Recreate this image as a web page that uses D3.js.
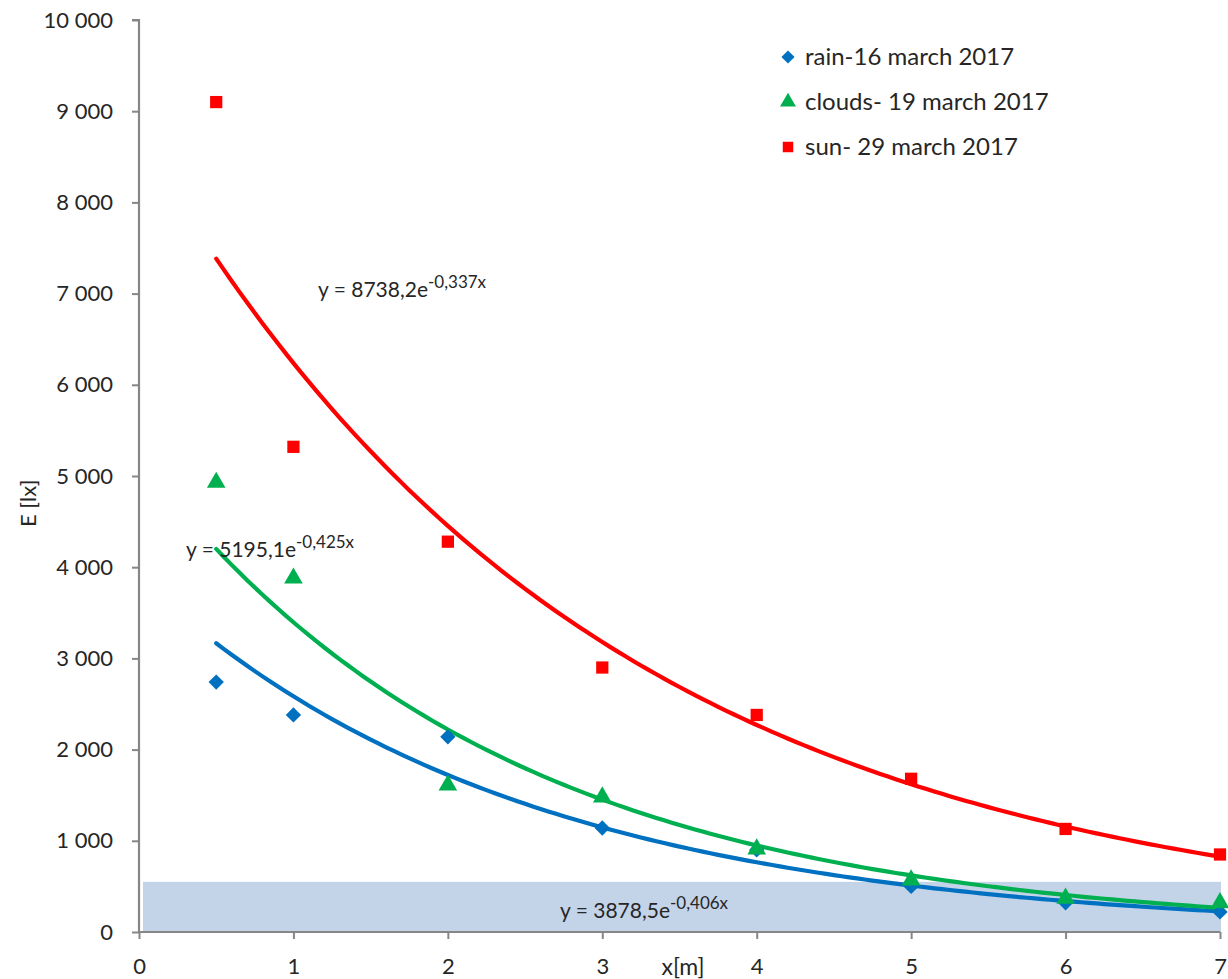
<!DOCTYPE html>
<html>
<head>
<meta charset="utf-8">
<script src="https://cdn.jsdelivr.net/npm/d3@7"></script>
<style>
  html, body { margin: 0; padding: 0; background: #fff; }
  svg { display: block; }
  text { font-family: Lato, "Open Sans", sans-serif; fill: #262626; }
</style>
</head>
<body>
<svg id="chart" width="1228" height="979"></svg>
<script>
// Distances (m) at which illuminance was measured
const distances = [0.5, 1, 2, 3, 4, 5, 6, 7];

// Measured illuminance E [lx]
const rainValues   = [2740, 2380, 2140, 1140, 900, 500, 320, 220];
const cloudValues  = [4930, 3880, 1610, 1480, 910, 570, 370, 320];
const sunValues    = [9100, 5320, 4280, 2900, 2380, 1680, 1130, 850];

// Series names (legend)
const seriesNames = ["rain-16 march 2017", "clouds- 19 march 2017", "sun- 29 march 2017"];

// Exponential fits y = a·e^(b·x)
const fitA = [3878.5, 5195.1, 8738.2];
const fitB = [-0.406, -0.425, -0.337];
const fitLabelsMain = ["y = 3878,5e", "y = 5195,1e", "y = 8738,2e"];
const fitLabelsExp  = ["-0,406x", "-0,425x", "-0,337x"];

// Low-light band upper limit (lx)
const bandLimit = 550;

// Axis ticks
const xTicks = [0, 1, 2, 3, 4, 5, 6, 7];
const yTicks = [0, 1000, 2000, 3000, 4000, 5000, 6000, 7000, 8000, 9000, 10000];

const colors = ["#0070C0", "#00B050", "#FF0000"];
const shapes = [d3.symbolDiamond2, d3.symbolTriangle, d3.symbolSquare];

const svg = d3.select("#chart");
const x = d3.scaleLinear().domain([0, 7]).range([139, 1220]);
const y = d3.scaleLinear().domain([0, 10000]).range([932, 20]);

const fmt = v => d3.format(",")(v).replace(/,/g, " ");

// Shaded band
svg.append("rect")
  .attr("x", x(0) + 4).attr("y", y(bandLimit))
  .attr("width", x(7) - x(0) - 3).attr("height", y(0) - y(bandLimit))
  .attr("fill", "#C3D3E8");

// Axes
const axisColor = "#868686";
const yAxis = svg.append("g").attr("transform", `translate(${x(0)},0)`)
  .call(d3.axisLeft(y).tickValues(yTicks).tickSize(7).tickPadding(19).tickFormat(fmt));
const xAxis = svg.append("g").attr("transform", `translate(0,${y(0)})`)
  .call(d3.axisBottom(x).tickValues(xTicks).tickSize(7).tickPadding(19).tickFormat(d3.format("d")));
[yAxis, xAxis].forEach(g => {
  g.select(".domain").attr("stroke", axisColor).attr("stroke-width", 2.2);
  g.selectAll(".tick line").attr("stroke", axisColor).attr("stroke-width", 2);
  g.selectAll(".tick text").style("font-size", "22px").attr("fill", "#262626")
    .style("font-family", "Lato, 'Open Sans', sans-serif");
});
yAxis.select(".domain").attr("d", `M-7,${y(10000)}H0V${y(0)}`);
xAxis.select(".domain").attr("d", `M${x(0)},0H${x(7)}`);

// Axis titles
svg.append("text").attr("transform", `translate(36,${y(4700)}) rotate(-90)`)
  .attr("text-anchor", "middle").style("font-size", "22px").text("E [lx]");
svg.append("text").attr("x", 683).attr("y", 975).attr("text-anchor", "middle")
  .style("font-size", "23px").text("x[m]");

// Fitted curves
const fitX = d3.range(0.5, 7.0001, 0.05);
const line = d3.line().x(d => x(d[0])).y(d => y(d[1])).curve(d3.curveLinear);
fitA.forEach((a, i) => {
  svg.append("path")
    .datum(fitX.map(v => [v, a * Math.exp(fitB[i] * v)]))
    .attr("d", line).attr("fill", "none")
    .attr("stroke", colors[i]).attr("stroke-width", 4.2).attr("stroke-linecap", "round");
});

// Measured points
const series = [rainValues, cloudValues, sunValues];
series.forEach((vals, i) => {
  svg.append("g").selectAll("path").data(vals).join("path")
    .attr("transform", (d, j) => `translate(${x(distances[j])},${y(d)})`)
    .attr("d", d3.symbol().type(shapes[i]).size(150))
    .attr("fill", colors[i]);
});

// Fit equations
const eqPos = [[560, 918], [186, 557], [318, 297]];
fitLabelsMain.forEach((t, i) => {
  const txt = svg.append("text").attr("x", eqPos[i][0]).attr("y", eqPos[i][1])
    .style("font-size", "21px");
  txt.append("tspan").text(t);
  txt.append("tspan").attr("dy", -9).style("font-size", "17px").text(fitLabelsExp[i]);
});

// Legend
const legendY = [57, 102, 147];
seriesNames.forEach((name, i) => {
  svg.append("path")
    .attr("transform", `translate(788,${legendY[i]})`)
    .attr("d", d3.symbol().type(shapes[i]).size(110))
    .attr("fill", colors[i]);
  svg.append("text").attr("x", 805).attr("y", legendY[i] + 8)
    .style("font-size", "24px").text(name);
});
</script>
</body>
</html>
